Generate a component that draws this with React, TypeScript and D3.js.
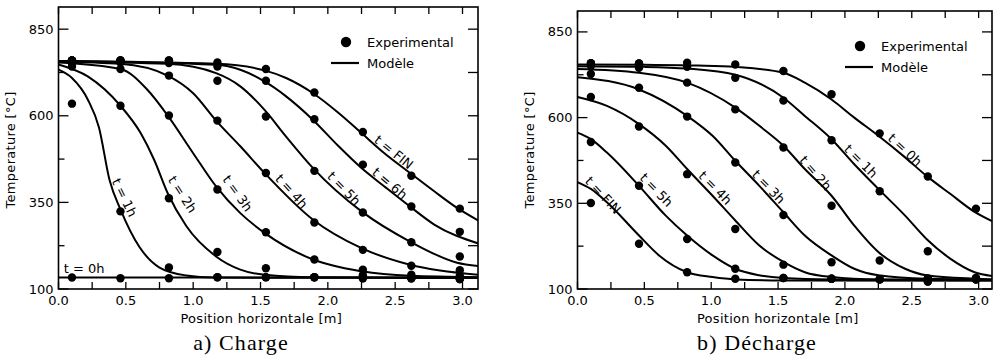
import React from 'react';
import * as d3 from 'd3';

// positions des thermocouples (m)
const expX = [0.1, 0.46, 0.82, 1.18, 1.54, 1.9, 2.26, 2.62, 2.98];

// --- Charge : mesures (°C) ---
const chExp0h = [133, 131, 131, 134, 134, 134, 131, 131, 129];
const chExp1h = [635, 324, 162, 134, 134, 134, 131, 131, 129];
const chExp2h = [742, 629, 362, 207, 160, 134, 140, 131, 129];
const chExp3h = [752, 735, 601, 387, 264, 185, 156, 141, 138];
const chExp4h = [760, 754, 716, 586, 435, 292, 213, 167, 154];
const chExp5h = [760, 760, 752, 701, 598, 441, 321, 235, 194];
const chExp6h = [760, 760, 760, 742, 701, 590, 459, 338, 265];
const chExpFin = [760, 760, 760, 754, 735, 667, 553, 427, 332];

// --- Charge : modèle [x, T] ---
const chMod0h = [[0, 133], [1.5, 133], [3.12, 133]];
const chMod1h = [[0, 733], [0.1, 709], [0.22, 645], [0.3, 567], [0.38, 413], [0.46, 330], [0.6, 222], [0.75, 162], [0.95, 139], [1.15, 133], [3.12, 132]];
const chMod2h = [[0, 748], [0.22, 713], [0.46, 629], [0.61, 550], [0.71, 473], [0.81, 377], [0.95, 281], [1.17, 194], [1.35, 156], [1.53, 141], [1.89, 134], [3.12, 132]];
const chMod3h = [[0, 754], [0.46, 735], [0.66, 675], [0.81, 601], [1.0, 492], [1.17, 396], [1.35, 319], [1.53, 262], [1.89, 185], [2.25, 151], [2.61, 138], [3.12, 134]];
const chMod4h = [[0, 756], [0.46, 750], [0.81, 716], [1.0, 665], [1.17, 586], [1.35, 512], [1.53, 435], [1.89, 300], [2.25, 218], [2.61, 170], [3.12, 141]];
const chMod5h = [[0, 757], [0.81, 750], [1.17, 723], [1.35, 685], [1.53, 617], [1.69, 540], [1.89, 449], [2.25, 324], [2.61, 237], [2.96, 176], [3.12, 166]];
const chMod6h = [[0, 758], [1.17, 747], [1.35, 733], [1.53, 699], [1.69, 656], [1.89, 588], [2.08, 512], [2.25, 449], [2.42, 396], [2.61, 338], [2.79, 286], [3.12, 231]];
const chModFin = [[0, 758], [1.17, 750], [1.53, 731], [1.69, 709], [1.89, 665], [2.08, 608], [2.25, 550], [2.42, 492], [2.61, 435], [2.79, 382], [2.96, 334], [3.12, 297]];

// --- Décharge : mesures (°C) ---
const deExp0h = [759, 758, 760, 755, 736, 668, 554, 428, 334];
const deExp1h = [759, 758, 748, 716, 650, 534, 385, 210, 132];
const deExp2h = [751, 745, 702, 624, 513, 343, 183, 130, 128];
const deExp3h = [727, 687, 603, 469, 316, 178, 128, 130, 128];
const deExp4h = [660, 574, 435, 275, 171, 130, 128, 122, 128];
const deExp5h = [529, 401, 246, 159, 132, 130, 128, 122, 132];
const deExpFin = [351, 232, 149, 130, 132, 130, 128, 130, 128];

// --- Décharge : modèle [x, T] ---
const deMod0h = [[0, 755], [0.5, 754], [0.9, 752], [1.18, 748], [1.54, 731], [1.7, 702], [1.9, 653], [2.07, 600], [2.25, 547], [2.45, 484], [2.61, 430], [2.79, 377], [2.97, 325], [3.1, 298]];
const deMod1h = [[0, 750], [0.5, 748], [0.82, 743], [1.18, 725], [1.54, 658], [1.7, 605], [1.9, 537], [2.07, 464], [2.25, 392], [2.45, 314], [2.61, 246], [2.79, 188], [2.97, 149], [3.1, 138]];
const deMod2h = [[0, 742], [0.46, 731], [0.82, 702], [1.18, 629], [1.36, 576], [1.54, 518], [1.7, 450], [1.9, 372], [2.07, 285], [2.25, 208], [2.45, 159], [2.61, 140], [2.97, 130], [3.1, 128]];
const deMod3h = [[0, 718], [0.46, 682], [0.82, 605], [1.01, 547], [1.18, 474], [1.36, 401], [1.54, 324], [1.7, 256], [1.9, 198], [2.07, 159], [2.25, 140], [2.61, 130], [3.1, 128]];
const deMod4h = [[0, 660], [0.22, 634], [0.46, 581], [0.66, 518], [0.82, 450], [1.01, 372], [1.18, 300], [1.36, 227], [1.54, 179], [1.7, 149], [1.9, 135], [2.25, 128], [3.1, 126]];
const deMod5h = [[0, 556], [0.1, 537], [0.22, 498], [0.46, 401], [0.66, 314], [0.82, 256], [1.01, 198], [1.18, 159], [1.36, 140], [1.54, 132], [1.9, 128], [3.1, 126]];
const deModFin = [[0, 412], [0.1, 392], [0.22, 353], [0.46, 256], [0.61, 198], [0.82, 149], [1.01, 135], [1.18, 128], [1.54, 125], [3.1, 124]];

// étiquettes des courbes : [texte, x, T, angle]
const chLabels = [
  ['t = 0h', 0.19, 159, 0],
  ['t = 1h', 0.49, 364, 64],
  ['t = 2h', 0.92, 373, 57],
  ['t = 3h', 1.33, 376, 54],
  ['t = 4h', 1.73, 382, 48],
  ['t = 5h', 2.12, 390, 46],
  ['t = 6h', 2.46, 405, 40],
  ['t = FIN', 2.49, 495, 39],
];
const deLabels = [
  ['t = FIN', 0.19, 374, 47],
  ['t = 5h', 0.59, 389, 46],
  ['t = 4h', 1.03, 395, 46],
  ['t = 3h', 1.43, 398, 46],
  ['t = 2h', 1.78, 438, 49],
  ['t = 1h', 2.12, 473, 45],
  ['t = 0h', 2.45, 506, 43],
];

const xMajor = [0, 0.5, 1, 1.5, 2, 2.5, 3];
const xMinor = [0.25, 0.75, 1.25, 1.75, 2.25, 2.75];
const yMajor = [100, 350, 600, 850];
const yMinor = [225, 475, 725];

const sans = 'DejaVu Sans, Verdana, sans-serif';

const Panel = ({ box, xMax, yMax, models, exps, labels, caption, captionX }) => {
  const x = d3.scaleLinear().domain([0, xMax]).range([box.left, box.right]);
  const y = d3.scaleLinear().domain([100, yMax]).range([box.bottom, box.top]);
  const line = d3.line().x(d => x(d[0])).y(d => y(d[1])).curve(d3.curveMonotoneX);
  const midX = (box.left + box.right) / 2;

  return (
    <g>
      <defs>
        <clipPath id={'clip' + box.left}>
          <rect x={box.left} y={box.top} width={box.right - box.left} height={box.bottom - box.top} />
        </clipPath>
      </defs>
      <g clipPath={`url(#clip${box.left})`}>
        {models.map((m, i) => (
          <path key={i} d={line(m)} fill="none" stroke="#000" strokeWidth={2} />
        ))}
        {exps.map((s, i) =>
          s.map((v, j) => <circle key={i + '-' + j} cx={x(expX[j])} cy={y(v)} r={4.2} fill="#000" />)
        )}
      </g>
      {labels.map(([txt, lx, lt, a], i) => (
        <text key={i} transform={`translate(${x(lx)},${y(lt)}) rotate(${a})`} textAnchor="middle"
          dy="0.35em" fontFamily={sans} fontSize={13}>{txt}</text>
      ))}
      {/* cadre + graduations */}
      <rect x={box.left} y={box.top} width={box.right - box.left} height={box.bottom - box.top}
        fill="none" stroke="#000" strokeWidth={1.6} />
      {[...xMajor, ...xMinor].map((v, i) => (
        <g key={'xt' + i}>
          <line x1={x(v)} x2={x(v)} y1={box.bottom} y2={box.bottom - 7} stroke="#000" strokeWidth={1.3} />
          <line x1={x(v)} x2={x(v)} y1={box.top} y2={box.top + 7} stroke="#000" strokeWidth={1.3} />
        </g>
      ))}
      {yMajor.map((v, i) => (
        <g key={'ym' + i}>
          <line x1={box.left} x2={box.left + 10} y1={y(v)} y2={y(v)} stroke="#000" strokeWidth={1.3} />
          <line x1={box.right} x2={box.right - 10} y1={y(v)} y2={y(v)} stroke="#000" strokeWidth={1.3} />
        </g>
      ))}
      {yMinor.map((v, i) => (
        <g key={'yn' + i}>
          <line x1={box.left} x2={box.left + 6} y1={y(v)} y2={y(v)} stroke="#000" strokeWidth={1.3} />
          <line x1={box.right} x2={box.right - 10} y1={y(v)} y2={y(v)} stroke="#000" strokeWidth={1.3} />
        </g>
      ))}
      {xMajor.map((v, i) => (
        <text key={'xl' + i} x={x(v)} y={box.bottom + 16} textAnchor="middle" fontFamily={sans} fontSize={13}>
          {d3.format('.1f')(v)}
        </text>
      ))}
      {yMajor.map((v, i) => (
        <text key={'yl' + i} x={box.left - 5} y={y(v)} dy="0.35em" textAnchor="end" fontFamily={sans} fontSize={13}>
          {v}
        </text>
      ))}
      <text x={midX - 7} y={323} textAnchor="middle" fontFamily={sans} fontSize={13} letterSpacing={0.3}>
        Position horizontale [m]
      </text>
      <text transform={`translate(${box.left - 44},150) rotate(-90)`} textAnchor="middle"
        fontFamily={sans} fontSize={13} letterSpacing={0.3}>
        Temperature [°C]
      </text>
      {/* légende */}
      <circle cx={box.right - 132} cy={box.top + 35} r={5.2} fill="#000" />
      <text x={box.right - 111} y={box.top + 40} fontFamily={sans} fontSize={13}>Experimental</text>
      <line x1={box.right - 147} x2={box.right - 119} y1={box.top + 56} y2={box.top + 56} stroke="#000" strokeWidth={2.2} />
      <text x={box.right - 111} y={box.top + 61} fontFamily={sans} fontSize={13}>Modèle</text>
      <text x={captionX} y={350} textAnchor="middle" fontFamily="Liberation Serif, Times New Roman, serif"
        fontSize={22} letterSpacing={1.1}>{caption}</text>
    </g>
  );
};

export default function App() {
  return (
    <svg width={1000} height={361} style={{ position: 'absolute', left: 0, top: 0, background: '#fff' }}>
      <Panel
        box={{ left: 58.5, right: 478, top: 7, bottom: 289 }}
        xMax={3.115}
        yMax={914}
        models={[chMod0h, chMod1h, chMod2h, chMod3h, chMod4h, chMod5h, chMod6h, chModFin]}
        exps={[chExp0h, chExp1h, chExp2h, chExp3h, chExp4h, chExp5h, chExp6h, chExpFin]}
        labels={chLabels}
        caption="a) Charge"
        captionX={241}
      />
      <Panel
        box={{ left: 577.5, right: 992, top: 11, bottom: 289 }}
        xMax={3.1}
        yMax={911}
        models={[deMod0h, deMod1h, deMod2h, deMod3h, deMod4h, deMod5h, deModFin]}
        exps={[deExp0h, deExp1h, deExp2h, deExp3h, deExp4h, deExp5h, deExpFin]}
        labels={deLabels}
        caption="b) Décharge"
        captionX={757}
      />
    </svg>
  );
}
